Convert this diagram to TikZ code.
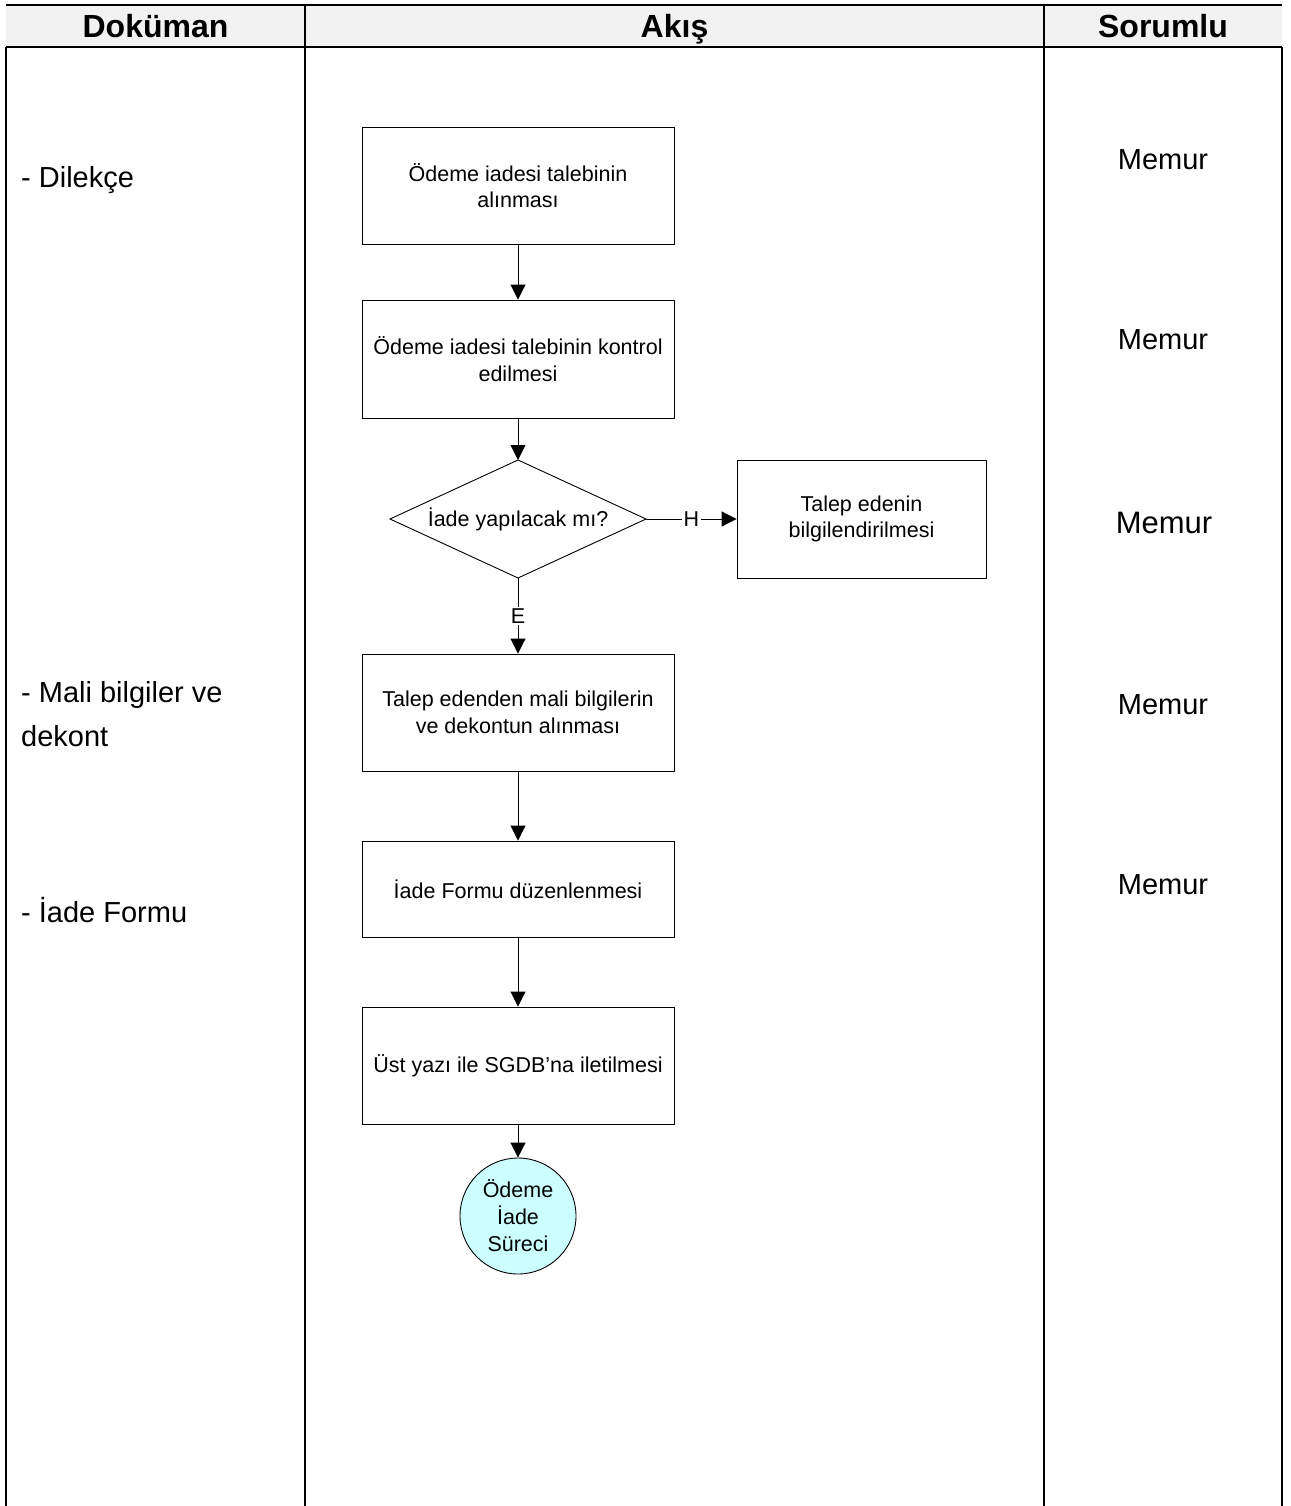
\documentclass[tikz,border=0pt]{standalone}
\usepackage{fontspec}
\setmainfont{Liberation Sans}
\usetikzlibrary{arrows.meta,shapes.geometric}
\definecolor{headgray}{HTML}{F2F2F2}
\definecolor{endcyan}{HTML}{CCFFFF}
\begin{document}
\begin{tikzpicture}[x=1pt,y=-1pt,
  tbl/.style={line width=2.8pt},
  stepbox/.style={draw,line width=0.9pt,minimum width=312pt,align=center,inner sep=2pt,font=\fontsize{21.5}{26.5}\selectfont},
  arr/.style={line width=0.9pt,-{Triangle[length=15pt,width=15pt]}},
  lbl/.style={fill=white,inner sep=1.5pt,font=\fontsize{21.5}{26.5}\selectfont},
  doc/.style={anchor=west,align=left,inner sep=0pt,font=\fontsize{29}{44}\selectfont},
  resp/.style={inner sep=0pt,font=\fontsize{29}{34}\selectfont},
  head/.style={inner sep=0pt,anchor=base,font=\fontsize{32}{36}\selectfont\bfseries}]
\useasboundingbox (0,0) rectangle (1290,1506);
% header
\fill[headgray] (6,5) rectangle (1282,47);
\draw[tbl] (6,5) -- (1282,5);
\draw[tbl] (6,47) -- (1282,47);
\draw[tbl] (6,47) -- (6,1506);
\draw[tbl] (305,5) -- (305,1506);
\draw[tbl] (1044,5) -- (1044,1506);
\draw[tbl] (1282,47) -- (1282,1506);
\node[head] (h1) at (155.5,38) {Doküman};
\node[head] (h2) at (674.5,38) {Akış};
\node[head] (h3) at (1163,38) {Sorumlu};
% flow
\node[stepbox,minimum height=117pt] (b1) at (518,185.5) {Ödeme iadesi talebinin\\alınması};
\node[stepbox,minimum height=118pt] (b2) at (518,359) {Ödeme iadesi talebinin kontrol\\edilmesi};
\coordinate (dtop) at (518,460);
\coordinate (dright) at (646,519);
\coordinate (dbot) at (518,578);
\coordinate (dleft) at (390,519);
\draw[line width=0.9pt] (dtop) -- (dright) -- (dbot) -- (dleft) -- cycle;
\node[inner sep=0pt,font=\fontsize{21.5}{26.5}\selectfont] (dtext) at (518,519) {İade yapılacak mı?};
\node[stepbox,minimum width=249pt,minimum height=118pt] (b3) at (861.5,519) {Talep edenin\\bilgilendirilmesi};
\node[stepbox,minimum height=117pt] (b4) at (518,712.5) {Talep edenden mali bilgilerin\\ve dekontun alınması};
\node[stepbox,minimum height=96pt] (b5) at (518,889) {İade Formu düzenlenmesi};
\node[stepbox,minimum height=117pt] (b6) at (518,1065.5) {Üst yazı ile SGDB’na iletilmesi};
\node[circle,draw,line width=0.9pt,fill=endcyan,minimum size=116pt,inner sep=0pt,align=center,font=\fontsize{21.5}{27}\selectfont] (end) at (518,1216) {Ödeme\\İade\\Süreci};
\draw[arr] (b1.south) -- (b2.north);
\draw[arr] (b2.south) -- (dtop);
\draw[arr] (dright) -- node[lbl] (lh) {H} (b3.west);
\draw[arr] (dbot) -- node[lbl] (le) {E} (b4.north);
\draw[arr] (b4.south) -- (b5.north);
\draw[arr] (b5.south) -- (b6.north);
\draw[arr] (b6.south) -- (end.north);
% documents
\node[doc] (d1) at (21,180) {- Dilekçe};
\node[doc] (d2) at (21,714) {- Mali bilgiler ve\\dekont};
\node[doc] (d3) at (21,910) {- İade Formu};
% responsible
\node[resp] (r1) at (1163,160) {Memur};
\node[resp] (r2) at (1163,340) {Memur};
\node[resp,font=\fontsize{31}{36}\selectfont] (r3) at (1164,523) {Memur};
\node[resp] (r4) at (1163,705) {Memur};
\node[resp] (r5) at (1163,885) {Memur};
\end{tikzpicture}
\end{document}
